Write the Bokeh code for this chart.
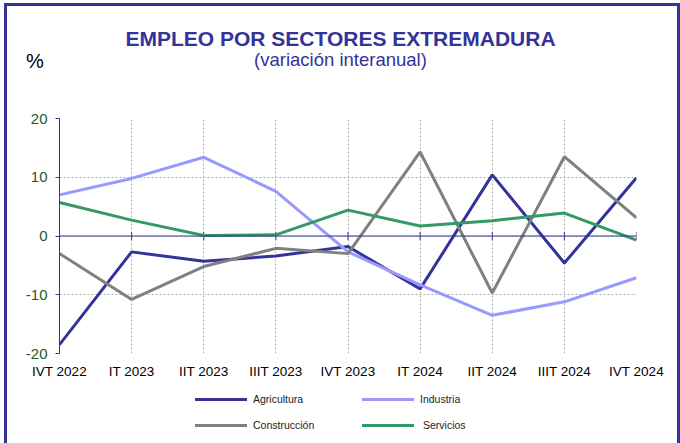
import math
from bokeh.plotting import figure
from bokeh.layouts import column
from bokeh.models import Range1d, FixedTicker, Span, Div
from bokeh.embed import file_html
from bokeh.resources import INLINE

# ---- data ----
categories = ["IVT 2022", "IT 2023", "IIT 2023", "IIIT 2023", "IVT 2023",
              "IT 2024", "IIT 2024", "IIIT 2024", "IVT 2024"]
agricultura = [-18.5, -2.7, -4.3, -3.4, -1.8, -9.0, 10.4, -4.6, 9.9]
industria = [7.0, 9.8, 13.4, 7.6, -2.7, -8.3, -13.5, -11.2, -7.1]
construccion = [-3.0, -10.8, -5.2, -2.1, -3.0, 14.3, -9.7, 13.5, 3.1]
servicios = [5.7, 2.7, 0.1, 0.2, 4.4, 1.7, 2.6, 3.9, -0.7]
y_ticks = [-20, -10, 0, 10, 20]
series_names = ["Agricultura", "Industria", "Construcción", "Servicios"]
series_colors = ["#333399", "#9999ff", "#808080", "#339966"]
title_text = "EMPLEO POR SECTORES EXTREMADURA"
subtitle_text = "(variación interanual)"
unit_text = "%"

xs = list(range(len(categories)))
FONT = "Liberation Sans"
BLUE = "#333399"

# ---- header (titles) ----
header_html = f"""
<div style="position:relative;width:670px;height:84px;font-family:'Liberation Sans',Arial,sans-serif;">
  <div style="position:absolute;left:0;top:22px;width:667px;text-align:center;font-size:21px;line-height:21px;font-weight:bold;color:{BLUE};white-space:nowrap;">{title_text}</div>
  <div style="position:absolute;left:0;top:45px;width:667px;text-align:center;font-size:18.5px;line-height:18.5px;color:{BLUE};white-space:nowrap;">{subtitle_text}</div>
  <div style="position:absolute;left:19px;top:45px;font-size:20px;line-height:20px;color:black;">{unit_text}</div>
</div>
"""
header = Div(text=header_html, width=670, height=84, margin=0)

# ---- chart ----
p = figure(width=670, height=293, output_backend="svg", toolbar_location=None,
           x_range=Range1d(0, len(categories) - 1), y_range=Range1d(-20, 20),
           min_border_left=52, min_border_right=41, min_border_top=28,
           min_border_bottom=30, margin=0)
p.outline_line_color = None
p.background_fill_color = "white"
p.border_fill_color = "white"

p.xaxis.ticker = FixedTicker(ticks=xs)
p.xaxis.major_label_overrides = {i: c for i, c in enumerate(categories)}
p.xaxis.axis_line_color = None
p.xaxis.major_tick_line_color = None
p.xaxis.major_tick_in = 0
p.xaxis.major_tick_out = 0
p.xaxis.minor_tick_line_color = None
p.xaxis.minor_tick_out = 0
p.xaxis.major_label_standoff = 10
p.xaxis.major_label_text_font = FONT
p.xaxis.major_label_text_font_size = "13.5px"
p.xaxis.major_label_text_color = "black"

p.yaxis.ticker = FixedTicker(ticks=y_ticks)
p.yaxis.major_label_overrides = {t: str(t) for t in y_ticks}
p.yaxis.axis_line_color = BLUE
p.yaxis.major_tick_line_color = BLUE
p.yaxis.major_tick_in = 0
p.yaxis.major_tick_out = 4
p.yaxis.minor_tick_line_color = None
p.yaxis.major_label_standoff = 8
p.yaxis.major_label_text_font = FONT
p.yaxis.major_label_text_font_size = "15px"
p.yaxis.major_label_text_color = "#1f5a1f"

for g in (p.xgrid, p.ygrid):
    g.grid_line_color = "#b0b0b0"
    g.grid_line_dash = "2 2"
    g.grid_line_width = 1

p.add_layout(Span(location=0, dimension="width", line_color=BLUE, line_width=1))
p.scatter(x=xs, y=[0] * len(xs), marker="dash", angle=math.pi / 2, size=8,
          line_color=BLUE, line_width=1)

for vals, color in zip([agricultura, industria, construccion, servicios], series_colors):
    p.line(xs, vals, line_color=color, line_width=3)

# ---- legend (below the chart) ----
legend_pos = [(188, 16), (355, 16), (188, 42), (355, 42)]
items = []
for (lx, ly), name, color in zip(legend_pos, series_names, series_colors):
    extra = 3 if name == "Servicios" else 0
    items.append(
        f'<div style="position:absolute;left:{lx}px;top:{ly - 1.5}px;width:52px;height:3px;background:{color};"></div>'
        f'<div style="position:absolute;left:{lx + 58 + extra}px;top:{ly - 6.5}px;line-height:13px;white-space:nowrap;">{name}</div>'
    )
legend_html = ('<div style="position:relative;width:670px;height:60px;'
               "font-family:'Liberation Sans',Arial,sans-serif;font-size:10.5px;color:#222222;\">"
               + "".join(items) + "</div>")
legend_div = Div(text=legend_html, width=670, height=60, margin=0)

layout = column(header, p, legend_div, spacing=0,
                styles={"border-left": f"3px solid {BLUE}",
                        "border-top": f"3px solid {BLUE}",
                        "border-right": f"3px solid {BLUE}",
                        "margin-left": "4px", "margin-top": "3px"})

open("out.html", "w").write(file_html(layout, INLINE))
